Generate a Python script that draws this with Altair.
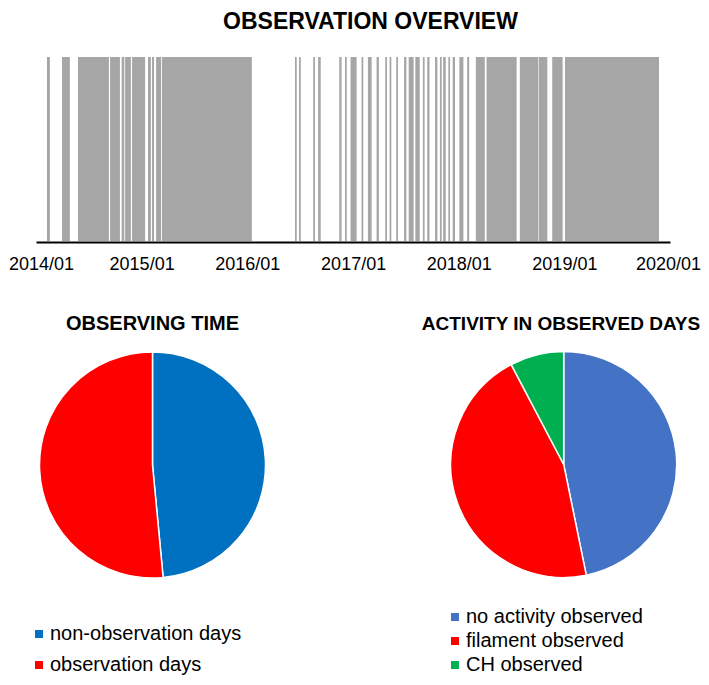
import altair as alt
import pandas as pd

# ---------------- text ----------------
main_title = "OBSERVATION OVERVIEW"
pie1_title = "OBSERVING TIME"
pie2_title = "ACTIVITY IN OBSERVED DAYS"

# ---------------- observation intervals (top panel) ----------------
obs_start = [
    "2014-02-08", "2014-04-01", "2014-05-26", "2014-09-14", "2014-10-24", "2014-11-05", "2014-11-29",
    "2015-01-23", "2015-02-06", "2015-02-20", "2015-03-12",
    "2016-06-14", "2016-06-28", "2016-08-16", "2016-09-02", "2016-11-14", "2016-12-04", "2016-12-23",
    "2017-01-30", "2017-02-21", "2017-03-23", "2017-04-22", "2017-05-07", "2017-05-30", "2017-06-26",
    "2017-07-12", "2017-08-04", "2017-08-30", "2017-09-14", "2017-10-11", "2017-10-28", "2017-11-08",
    "2017-11-26", "2017-12-11",
    "2018-01-03", "2018-01-30", "2018-03-01", "2018-04-07", "2018-07-31", "2018-10-05", "2018-11-20",
    "2019-01-03",
]
obs_end = [
    "2014-02-18", "2014-04-28", "2014-09-10", "2014-10-18", "2014-11-02", "2014-11-25", "2015-01-13",
    "2015-02-02", "2015-02-13", "2015-03-09", "2016-01-17",
    "2016-06-20", "2016-07-04", "2016-08-22", "2016-09-11", "2016-11-22", "2016-12-10", "2017-01-13",
    "2017-02-05", "2017-03-06", "2017-03-31", "2017-04-28", "2017-05-13", "2017-06-05", "2017-07-04",
    "2017-07-29", "2017-08-19", "2017-09-05", "2017-09-22", "2017-10-19", "2017-11-03", "2017-11-17",
    "2017-12-02", "2017-12-19",
    "2018-01-17", "2018-02-06", "2018-04-01", "2018-07-20", "2018-10-03", "2018-11-03", "2018-12-26",
    "2019-11-24",
]
tick_years = [2014, 2015, 2016, 2017, 2018, 2019, 2020]

# ---------------- pies ----------------
time_labels = ["non-observation days", "observation days"]
time_values = [48.5, 51.5]
time_colors = ["#0070C0", "#FF0000"]

act_labels = ["no activity observed", "filament observed", "CH observed"]
act_values = [46.8, 45.5, 7.7]
act_colors = ["#4472C4", "#FF0000", "#00B050"]

FONT = "Liberation Sans"
W, H = 693, 669

# ---------------- top barcode ----------------
bars_df = pd.DataFrame({"start": obs_start, "end": obs_end})
x_domain = [alt.DateTime(year=tick_years[0], month=1, date=1, utc=True),
            alt.DateTime(year=tick_years[-1], month=1, date=1, utc=True)]
tick_vals = [alt.DateTime(year=y, month=1, date=1, utc=True) for y in tick_years]

first_y, last_y = tick_years[0], tick_years[-1]
label_shift = {
    "condition": [
        {"test": f"utcyear(datum.value) == {first_y}", "value": 5},
        {"test": f"utcyear(datum.value) == {last_y}", "value": -2},
    ],
    "value": 0,
}

bars = alt.Chart(bars_df).mark_rect(color="#A6A6A6").encode(
    x=alt.X(
        "start:T",
        scale=alt.Scale(type="utc", domain=x_domain, range=[28, 662]),
        axis=alt.Axis(
            values=tick_vals, labelExpr="utcFormat(datum.value, '%Y/%m')", title=None,
            grid=False, ticks=False, tickSize=0, labelPadding=13,
            labelFontSize=18, labelFont=FONT, labelColor="black",
            labelOffset=label_shift,
            domainColor="black", domainWidth=2, labelFlush=False,
            labelOverlap=False, offset=-435,
        ),
    ),
    x2="end:T",
    y=alt.value(49),
    y2=alt.value(233),
)

# ---------------- legends ----------------
def legend(lx, ly, row_pad):
    return alt.Legend(
        orient="none", legendX=lx, legendY=ly, title=None,
        symbolType="square", symbolSize=64, symbolStrokeWidth=0,
        labelFontSize=20, labelFont=FONT, labelColor="black",
        labelOffset=1, labelLimit=400, rowPadding=row_pad, padding=0,
    )

# ---------------- pie 1 ----------------
pie1_df = pd.DataFrame({"label": time_labels, "value": time_values,
                        "idx": list(range(len(time_labels)))})
pie1 = alt.Chart(pie1_df).mark_arc(radius=113, stroke="white", strokeWidth=1.5).encode(
    theta=alt.Theta("value:Q", stack=True),
    order=alt.Order("idx:Q"),
    color=alt.Color(
        "label:N", sort=time_labels,
        scale=alt.Scale(domain=time_labels, range=time_colors),
        legend=legend(21, 616, 11),
    ),
    x=alt.value(144.5),
    y=alt.value(457),
)

# ---------------- pie 2 ----------------
pie2_df = pd.DataFrame({"label": act_labels, "value": act_values,
                        "idx": list(range(len(act_labels)))})
pie2 = alt.Chart(pie2_df).mark_arc(radius=113, stroke="white", strokeWidth=1.5).encode(
    theta=alt.Theta("value:Q", stack=True),
    order=alt.Order("idx:Q"),
    color=alt.Color(
        "label:N", sort=act_labels,
        scale=alt.Scale(domain=act_labels, range=act_colors),
        legend=legend(437, 599, 4),
    ),
    x=alt.value(555.7),
    y=alt.value(456.5),
)

# ---------------- titles ----------------
def title_layer(text, size, cx, base):
    return alt.Chart(alt.Data(values=[{"t": text}])).mark_text(
        fontSize=size, fontWeight="bold", font=FONT, color="black",
        align="center", baseline="alphabetic",
    ).encode(text="t:N", x=alt.value(cx), y=alt.value(base))

t_main = title_layer(main_title, 23, 362.5, 21)
t_pie1 = title_layer(pie1_title, 20, 144.5, 322)
t_pie2 = title_layer(pie2_title, 19, 553, 322)

chart = alt.layer(bars, pie1, pie2, t_main, t_pie1, t_pie2).resolve_scale(
    color="independent", theta="independent"
).properties(
    width=W, height=H, autosize=alt.AutoSizeParams(type="none"), padding=0
).configure(font=FONT).configure_view(stroke=None)

chart.save("out.html", embed_options={"renderer": "svg", "actions": False})
